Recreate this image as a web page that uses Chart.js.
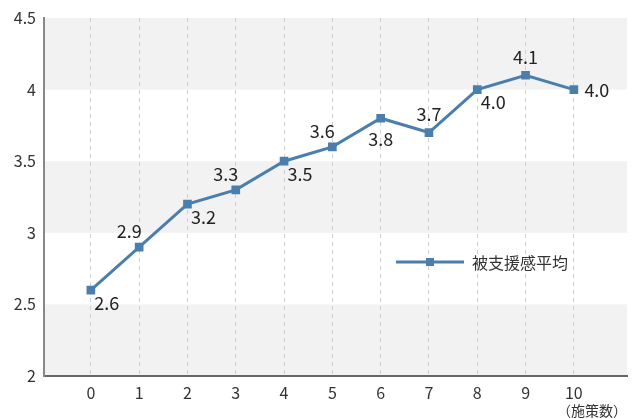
<!DOCTYPE html>
<html>
<head>
<meta charset="utf-8">
<script src="https://cdn.jsdelivr.net/npm/chart.js@4/dist/chart.umd.min.js"></script>
<style>
  html, body { margin: 0; padding: 0; background: #fff; }
  #wrap { width: 634px; height: 419px; }
</style>
</head>
<body>
<div id="wrap"><canvas id="myChart" width="634" height="419"></canvas></div>
<script>
const FONT = '"Noto Sans CJK JP", "Noto Sans", sans-serif';

// 施策数 0..10 と被支援感の平均
let counts = [0, 1, 2, 3, 4, 5, 6, 7, 8, 9, 10];
let support = [2.6, 2.9, 3.2, 3.3, 3.5, 3.6, 3.8, 3.7, 4.0, 4.1, 4.0];
let seriesName = '被支援感平均';
let xTitle = '（施策数）';

// where each value label sits relative to its point
let labelSide = ['belowRight', 'aboveLeft', 'belowRight', 'aboveLeft', 'belowRight',
  'aboveLeft', 'below', 'above', 'belowRight', 'above', 'right'];

const LINE = '#4a7fad';

const sideOffset = {
  below: [0, 21], above: [0, -18], right: [23, 1],
  belowRight: [16, 13], aboveLeft: [-10, -16]
};

// grey bands on alternate half-steps
const bands = {
  id: 'bands',
  beforeDraw(chart) {
    const {ctx, chartArea: a, scales: {y}} = chart;
    ctx.save();
    ctx.fillStyle = '#f2f2f2';
    for (let v = 2; v < 4.5; v += 1) {
      const top = y.getPixelForValue(v + 0.5), bot = y.getPixelForValue(v);
      ctx.fillRect(a.left, top, a.right - a.left, bot - top);
    }
    ctx.restore();
  }
};

// value labels and the in-chart legend
const extras = {
  id: 'extras',
  afterDatasetsDraw(chart) {
    const ctx = chart.ctx;
    const meta = chart.getDatasetMeta(0);
    ctx.save();
    ctx.font = '18px ' + FONT;
    ctx.fillStyle = '#222';
    ctx.textAlign = 'center';
    ctx.textBaseline = 'middle';
    meta.data.forEach((pt, i) => {
      const [dx, dy] = sideOffset[labelSide[i]];
      ctx.fillText(support[i].toFixed(1), pt.x + dx, pt.y + dy);
    });

    const lx = 396, ly = 262;
    ctx.strokeStyle = LINE;
    ctx.lineWidth = 3;
    ctx.beginPath();
    ctx.moveTo(lx, ly);
    ctx.lineTo(lx + 68, ly);
    ctx.stroke();
    ctx.fillStyle = LINE;
    ctx.fillRect(lx + 30, ly - 4, 8, 8);
    ctx.font = '16px ' + FONT;
    ctx.fillStyle = '#333';
    ctx.textAlign = 'left';
    ctx.fillText(seriesName, lx + 76, ly + 1);
    ctx.restore();
  }
};

new Chart(document.getElementById('myChart'), {
  type: 'line',
  data: {
    datasets: [{
      label: seriesName,
      data: counts.map((c, i) => ({x: c, y: support[i]})),
      borderColor: LINE,
      backgroundColor: LINE,
      borderWidth: 3,
      pointStyle: 'rect',
      pointRadius: 4,
      pointHoverRadius: 4,
      tension: 0
    }]
  },
  options: {
    responsive: false,
    animation: false,
    layout: {padding: {top: 18, right: 6, left: 0, bottom: 0}},
    plugins: {legend: {display: false}, tooltip: {enabled: false}},
    scales: {
      x: {
        type: 'linear',
        min: -0.97,
        max: 11.1,
        afterBuildTicks: s => { s.ticks = counts.map(v => ({value: v})); },
        afterFit: s => { s.height = 43; },
        grid: {color: '#d0d0d0', lineWidth: 1, drawTicks: false},
        border: {display: true, color: '#666', width: 2, dash: [4, 4]},
        ticks: {padding: 7, color: '#333', font: {family: FONT, size: 16}},
        title: {
          display: true, text: xTitle, align: 'end', color: '#333',
          padding: {top: 0, bottom: 0}, font: {family: FONT, size: 14}
        }
      },
      y: {
        min: 2,
        max: 4.5,
        afterFit: s => { s.width = 44; },
        ticks: {
          stepSize: 0.5, padding: 8, color: '#333',
          font: {family: FONT, size: 16},
          callback: v => String(v)
        },
        grid: {display: false, drawTicks: false},
        border: {display: true, color: '#888', width: 2}
      }
    }
  },
  plugins: [bands, extras]
});
</script>
</body>
</html>
